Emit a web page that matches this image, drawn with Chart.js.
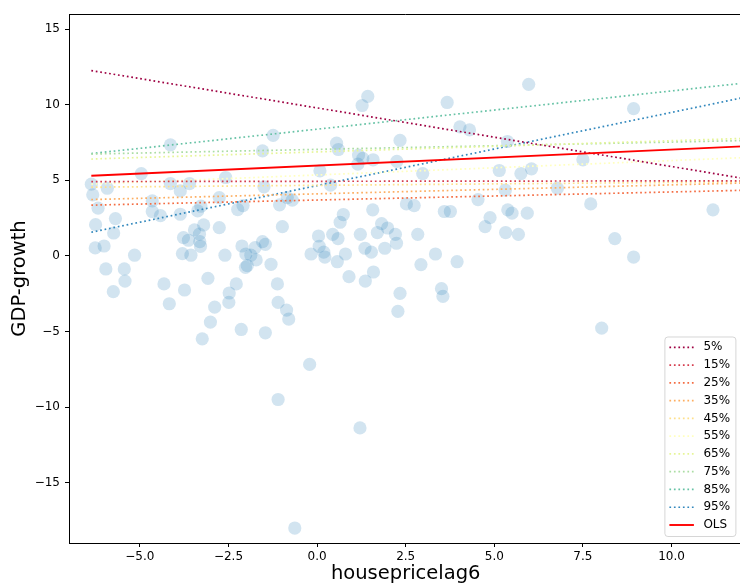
<!DOCTYPE html>
<html>
<head>
<meta charset="utf-8">
<script src="https://cdn.jsdelivr.net/npm/chart.js@4.4.1/dist/chart.umd.min.js"></script>
<style>
  html, body { margin: 0; padding: 0; overflow: hidden; background: #fff; }
  #wrap { width: 749px; height: 587px; }
</style>
</head>
<body>
<div id="wrap"><canvas id="chartQuant" width="749" height="587"></canvas></div>
<script>
// observações: housepricelag6 x GDP-growth
const houseX = [
  1.43, 1.27, 3.67, 5.97, 8.93, -4.14, -1.24, 4.03, 4.30, 2.34,
  0.55, 0.60, 1.17, 1.29, 1.58, 1.15, 2.25, 0.08, 2.98, 0.38,
  5.14, 5.37, 5.75, 6.05, 5.31, 4.54, 2.52, 2.74, 3.59, 3.76,
  1.57, 0.74, 0.65, 4.88, 4.74, 5.32, 5.68, 5.38, 5.50, 5.93,
  1.82, 1.99, 1.70, 2.21, 2.84, 0.04, 0.44, 0.59, 1.22, 0.06,
  2.24, 1.35, 1.91, 0.19, 0.22, -0.17, 0.57, 0.80, 1.53, 0.90,
  1.36, 1.59, 2.93, 3.34, 3.95, 2.34, 2.28, 3.51, 3.55, -0.21,
  7.50, 6.78, 7.72, 11.17, 8.40, 8.93, 8.03, -4.96, -1.54, -6.37,
  -6.33, -6.18, -5.92, -4.65, -4.65, -4.42, -4.14, -3.86, -3.60, -3.86,
  -3.28, -3.37, -2.76, -2.58, -2.24, -2.09, -1.50, -1.06, -0.84, -0.70,
  -6.25, -5.74, -5.69, -6.26, -6.01, -3.77, -3.63, -3.46, -3.32, -3.20,
  -3.31, -2.76, -2.12, -1.75, -1.54, -1.46, -0.98, -5.15, -5.96, -5.44,
  -5.42, -5.75, -3.29, -3.80, -3.56, -2.60, -2.01, -1.87, -1.72, -2.02,
  -1.97, -1.30, -3.08, -4.32, -3.74, -4.17, -2.28, -2.48, -2.49, -2.89,
  -3.01, -3.24, -2.14, -1.46, -1.12, -1.10, -0.86, -0.80, -1.10, 1.21,
  -0.63
];
const gdpY = [
  10.55, 9.95, 10.15, 11.35, 9.74, 7.35, 7.97, 8.54, 8.34, 7.64,
  7.46, 7.04, 6.67, 6.45, 6.36, 6.07, 6.25, 5.63, 5.45, 4.68,
  5.65, 7.57, 5.45, 5.76, 4.35, 3.73, 3.44, 3.33, 2.94, 2.94,
  3.05, 2.74, 2.23, 2.54, 1.94, 1.55, 1.43, 3.05, 2.83, 2.83,
  2.14, 1.85, 1.55, 1.43, 1.43, 1.32, 1.43, 1.15, 1.43, 0.64,
  0.84, 0.51, 0.51, 0.25, -0.07, 0.13, -0.38, 0.13, 0.25, -1.37,
  -1.66, -1.06, -0.57, 0.13, -0.38, -2.47, -3.66, -2.16, -2.67, -7.17,
  6.36, 4.48, 3.44, 3.05, 1.15, -0.07, -4.77, 5.45, 6.95, 4.75,
  4.04, 3.16, 4.48, 3.64, 2.94, 2.67, 4.79, 4.30, 4.79, 2.76,
  3.29, 2.98, 3.86, 5.19, 3.07, 3.33, 4.57, 3.38, 3.86, 3.69,
  2.07, 1.52, 2.47, 0.53, 0.66, 1.21, 1.04, 1.72, 1.44, 2.05,
  0.95, 1.87, 0.66, 0.55, 0.95, 0.77, 1.94, 0.05, -0.86, -0.86,
  -1.66, -2.36, 0.64, 0.15, 0.05, 0.05, 0.13, 0.05, -0.26, -0.75,
  -0.64, -0.55, -1.48, -1.85, -2.25, -3.16, -1.85, -2.45, -3.07, -3.38,
  -4.37, -5.48, -4.86, -5.08, -1.85, -3.07, -3.58, -4.17, -9.49, -11.37,
  -17.99
];

// retas de regressão quantílica (valor no início e no fim do intervalo)
const quantiles = ['5%', '15%', '25%', '35%', '45%', '55%', '65%', '75%', '85%', '95%'];
const quantColors = ['#9e0142', '#d53e4f', '#f46d43', '#fdae61', '#fee08b',
                     '#ffffbf', '#e6f598', '#abdda4', '#66c2a5', '#3288bd'];
const lineX = [-6.37, 12.0];
const qStart = [12.26, 4.92, 3.36, 3.73, 4.55, 4.75, 6.41, 6.74, 6.77, 1.57];
const qEnd   = [5.14, 4.97, 4.34, 4.82, 4.90, 6.50, 7.77, 7.63, 11.42, 10.46];
const olsY = [5.30, 7.25];

const xTickVals = [-5, -2.5, 0, 2.5, 5, 7.5, 10];
const yTickVals = [-15, -10, -5, 0, 5, 10, 15];

Chart.defaults.font.family = 'DejaVu Sans';
Chart.defaults.font.size = 12;
Chart.defaults.color = '#000';

const datasets = [];
datasets.push({
  type: 'line',
  label: 'OLS',
  data: lineX.map((x, i) => ({ x: x, y: olsY[i] })),
  borderColor: '#ff0000',
  borderWidth: 1.9,
  pointRadius: 0,
  order: 0
});
quantiles.forEach((q, k) => {
  datasets.push({
    type: 'line',
    label: q,
    data: lineX.map((x, i) => ({ x: x, y: i === 0 ? qStart[k] : qEnd[k] })),
    borderColor: quantColors[k],
    borderWidth: 1.7,
    borderDash: [1.7, 2.8],
    pointRadius: 0,
    order: 1
  });
});
datasets.push({
  type: 'scatter',
  label: 'dados',
  data: houseX.map((x, i) => ({ x: x, y: gdpY[i] })),
  backgroundColor: 'rgba(31,119,180,0.2)',
  borderWidth: 0,
  pointRadius: 6.6,
  pointHoverRadius: 6.6,
  order: 5
});

// linha superior do quadro
const topBorder = {
  id: 'topBorder',
  afterDraw(chart) {
    const { ctx, chartArea } = chart;
    ctx.save();
    ctx.strokeStyle = '#000';
    ctx.lineWidth = 1;
    ctx.beginPath();
    ctx.moveTo(chartArea.left, chartArea.top + 0.5);
    ctx.lineTo(chartArea.right, chartArea.top + 0.5);
    ctx.stroke();
    ctx.restore();
  }
};

// legenda dentro do gráfico, canto inferior direito
const quantLegend = {
  id: 'quantLegend',
  afterDatasetsDraw(chart) {
    const { ctx, chartArea } = chart;
    const right = chartArea.right - 6.5, bottom = chartArea.bottom - 6.5;
    const w = 71, h = 199.5;
    const left = right - w, top = bottom - h;
    ctx.save();
    ctx.beginPath();
    ctx.roundRect(left, top, w, h, 3);
    ctx.fillStyle = 'rgba(255,255,255,0.8)';
    ctx.fill();
    ctx.strokeStyle = 'rgba(204,204,204,0.8)';
    ctx.lineWidth = 1;
    ctx.stroke();

    const names = quantiles.concat(['OLS']);
    const colors = quantColors.concat(['#ff0000']);
    ctx.font = '12px "DejaVu Sans"';
    ctx.textBaseline = 'middle';
    ctx.textAlign = 'left';
    names.forEach((n, i) => {
      const y = top + 10.3 + i * 17.77;
      ctx.beginPath();
      ctx.strokeStyle = colors[i];
      if (n === 'OLS') {
        ctx.setLineDash([]);
        ctx.lineWidth = 1.9;
      } else {
        ctx.setLineDash([1.7, 2.8]);
        ctx.lineWidth = 1.7;
      }
      ctx.moveTo(left + 4.5, y);
      ctx.lineTo(left + 29, y);
      ctx.stroke();
      ctx.setLineDash([]);
      ctx.fillStyle = '#000';
      ctx.fillText(n, left + 38.5, y);
    });
    ctx.restore();
  }
};

const ctxQ = document.getElementById('chartQuant');
new Chart(ctxQ, {
  data: { datasets: datasets },
  plugins: [topBorder, quantLegend],
  options: {
    responsive: false,
    animation: false,
    layout: { padding: { top: 14, right: 0, left: 0, bottom: 0 } },
    plugins: {
      legend: { display: false },
      tooltip: { enabled: false }
    },
    scales: {
      x: {
        type: 'linear',
        min: -7.0,
        max: 12.0,
        afterFit: (scale) => { scale.height = 44; },
        afterBuildTicks: (scale) => { scale.ticks = xTickVals.map(v => ({ value: v })); },
        grid: { drawOnChartArea: false, drawTicks: true, tickLength: 4, tickColor: '#000' },
        border: { color: '#000', width: 1 },
        ticks: {
          padding: 3,
          maxRotation: 0,
          callback: (v) => Number(v).toFixed(1).replace('-', '\u2212')
        },
        title: {
          display: true,
          text: 'housepricelag6',
          font: { size: 19.5 },
          padding: { top: 0, bottom: 1 }
        }
      },
      y: {
        type: 'linear',
        min: -18.98,
        max: 16.0,
        afterFit: (scale) => { scale.width = 69; },
        afterBuildTicks: (scale) => { scale.ticks = yTickVals.map(v => ({ value: v })); },
        grid: { drawOnChartArea: false, drawTicks: true, tickLength: 4, tickColor: '#000' },
        border: { color: '#000', width: 1 },
        ticks: {
          padding: 5,
          callback: (v) => String(v).replace('-', '\u2212')
        },
        title: {
          display: true,
          text: 'GDP-growth',
          font: { size: 19.5 },
          padding: { top: 8.5, bottom: 0 }
        }
      }
    }
  }
});
</script>
</body>
</html>
